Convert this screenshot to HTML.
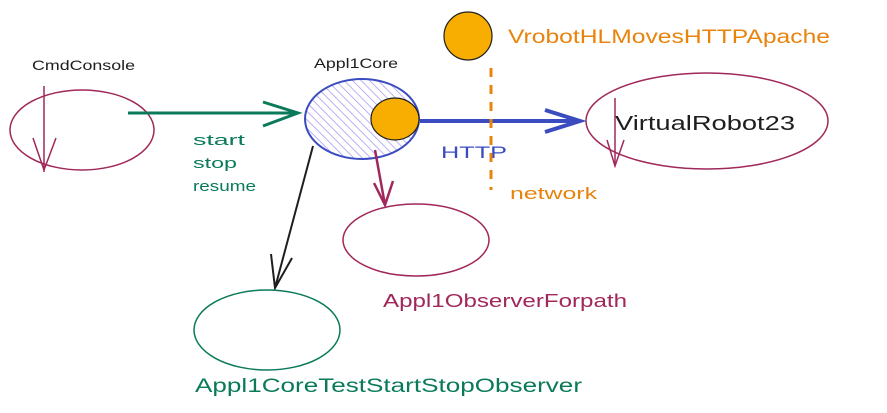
<!DOCTYPE html>
<html><head><meta charset="utf-8"><style>
html,body{margin:0;padding:0;background:#fff;width:887px;height:413px;overflow:hidden}
text{font-family:"Liberation Sans",sans-serif}
</style></head><body>
<svg width="887" height="413" viewBox="0 0 887 413" xmlns="http://www.w3.org/2000/svg">
<defs>
<pattern id="h" width="6" height="6" patternUnits="userSpaceOnUse" patternTransform="rotate(-45)">
<line x1="0" y1="0" x2="0" y2="6" stroke="#a79af0" stroke-width="1.5"/>
</pattern>
</defs>
<text x="32" y="70" font-size="14" fill="#1e1e1e" textLength="103" lengthAdjust="spacingAndGlyphs">CmdConsole</text>
<ellipse cx="82" cy="130" rx="72" ry="40" fill="none" stroke="#a0285a" stroke-width="1.5"/>
<line x1="44" y1="86" x2="44" y2="172" stroke="#a0285a" stroke-width="1.5"/>
<polyline points="33,138 44,170 56,138" fill="none" stroke="#a0285a" stroke-width="1.5"/>
<line x1="128" y1="113" x2="298" y2="113" stroke="#0a7a5a" stroke-width="3"/>
<polyline points="263,102 298,113 263,126" fill="none" stroke="#0a7a5a" stroke-width="3"/>
<text x="193" y="145" font-size="15" fill="#0a7a5a" textLength="52" lengthAdjust="spacingAndGlyphs">start</text>
<text x="193" y="168" font-size="15" fill="#0a7a5a" textLength="44" lengthAdjust="spacingAndGlyphs">stop</text>
<text x="193" y="191" font-size="15" fill="#0a7a5a" textLength="63" lengthAdjust="spacingAndGlyphs">resume</text>
<text x="314" y="68" font-size="14" fill="#1e1e1e" textLength="84" lengthAdjust="spacingAndGlyphs">Appl1Core</text>
<ellipse cx="362" cy="119" rx="57" ry="40" fill="url(#h)" stroke="#3b4cc0" stroke-width="2"/>
<ellipse cx="395" cy="119" rx="24" ry="21" fill="#f8ae00" stroke="#1e1e1e" stroke-width="1.2"/>
<line x1="420" y1="121" x2="580" y2="121" stroke="#3b4cc0" stroke-width="4"/>
<polyline points="545,110 580,121 545,132" fill="none" stroke="#3b4cc0" stroke-width="4"/>
<text x="441" y="158" font-size="17" fill="#3b4cc0" textLength="66" lengthAdjust="spacingAndGlyphs">HTTP</text>
<circle cx="468" cy="36" r="24" fill="#f8ae00" stroke="#1e1e1e" stroke-width="1.2"/>
<text x="508" y="43" font-size="19" fill="#e8830c" textLength="322" lengthAdjust="spacingAndGlyphs">VrobotHLMovesHTTPApache</text>
<line x1="491" y1="68" x2="491" y2="190" stroke="#e8830c" stroke-width="3" stroke-dasharray="9 8"/>
<text x="510" y="199" font-size="17" fill="#e8830c" textLength="87" lengthAdjust="spacingAndGlyphs">network</text>
<ellipse cx="707" cy="121" rx="121" ry="48" fill="none" stroke="#a0285a" stroke-width="1.5"/>
<text x="615" y="130" font-size="20" fill="#1e1e1e" textLength="180" lengthAdjust="spacingAndGlyphs">VirtualRobot23</text>
<line x1="615" y1="98" x2="615" y2="166" stroke="#a0285a" stroke-width="1.5"/>
<polyline points="607,140 615,166 624,140" fill="none" stroke="#a0285a" stroke-width="1.5"/>
<line x1="375" y1="150" x2="385" y2="205" stroke="#a0285a" stroke-width="2.5"/>
<polyline points="374,183 385,205 393,181" fill="none" stroke="#a0285a" stroke-width="2.5"/>
<ellipse cx="416" cy="240" rx="73" ry="36" fill="none" stroke="#a0285a" stroke-width="1.5"/>
<text x="383" y="307" font-size="18" fill="#a0285a" textLength="244" lengthAdjust="spacingAndGlyphs">Appl1ObserverForpath</text>
<line x1="313" y1="146" x2="275" y2="288" stroke="#1e1e1e" stroke-width="2"/>
<polyline points="271,254 275,288 292,258" fill="none" stroke="#1e1e1e" stroke-width="2"/>
<ellipse cx="267" cy="330" rx="73" ry="40" fill="none" stroke="#0a7a5a" stroke-width="1.5"/>
<text x="195" y="392" font-size="19" fill="#0a7a5a" textLength="387" lengthAdjust="spacingAndGlyphs">Appl1CoreTestStartStopObserver</text>
</svg>
</body></html>
